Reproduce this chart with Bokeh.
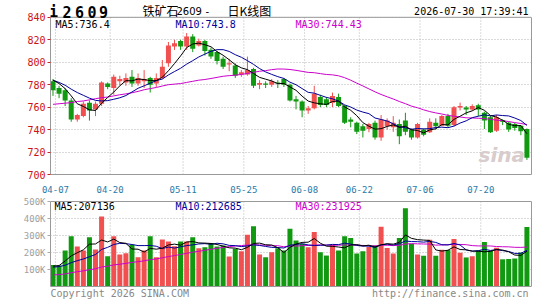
import numpy as np
from bokeh.plotting import figure
from bokeh.layouts import column
from bokeh.models import (ColumnDataSource, FixedTicker, Range1d, LinearAxis,
                          CustomJSTickFormatter)
from bokeh.core.properties import value
from bokeh.embed import file_html
from bokeh.resources import INLINE

# ---------------- data ----------------
tick_idx = [0, 9, 21, 31, 41, 50, 60, 70]
tick_labels = ["04-07", "04-20", "05-11", "05-25", "06-08", "06-22", "07-06", "07-20"]

opens = [783, 777, 775, 766, 749, 752, 764, 758, 763, 781,
         777, 783, 782, 787, 781, 783, 786, 781, 786, 799,
         814, 819, 814, 823, 815, 819, 811, 809, 803, 798,
         797, 789, 789, 794, 780, 781, 780, 782, 785, 780,
         767, 765, 757, 759, 769, 767, 764, 769, 761, 749,
         746, 743, 740.5, 746, 733, 743, 742, 745, 748, 740,
         733, 740, 737.6, 746, 743.5, 752, 744, 759.6, 759.6, 758,
         761.7, 755, 751, 739, 748.5, 746, 745, 743.5, 740.5]
highs = [785, 779, 777, 768, 754, 765, 766, 765, 783, 782,
         789, 788, 790, 793, 790, 793, 787, 790, 802, 818,
         820, 820, 826, 825, 821, 820, 813, 810, 805, 803,
         799, 793, 805, 795, 784, 783, 785, 784, 786, 781,
         770, 766, 761, 779, 771, 769, 773, 772, 762, 751,
         747, 745, 746, 748, 753, 750, 752, 749, 755, 741,
         746, 741, 750, 750, 753, 754, 761, 764, 761, 762.5,
         763, 756, 752, 753, 749, 747, 746, 744, 741]
lows = [770, 768, 761, 747, 747, 751, 748, 752, 761, 776,
        771, 779, 779, 778, 779, 777, 773, 778, 785, 796,
        811, 811, 811, 809, 814, 806, 803, 798, 794, 792,
        786, 787, 788, 777, 776, 777, 778, 777, 778, 765,
        758, 751, 754, 758, 760, 760, 760, 760, 745, 742,
        736, 733, 737.6, 731, 730, 740, 738, 727, 735, 731,
        732, 734, 737, 740, 743, 742, 743, 757, 753, 757,
        752, 740.5, 737, 738, 744, 738, 739, 735, 713]
closes = [775, 772, 766, 749, 753, 763, 757, 763, 782, 778,
          787, 785, 786, 781, 786, 785, 780, 786, 796, 815,
          817, 814, 823, 812, 819, 810, 805, 801, 796, 799,
          788, 791, 793, 779, 781.5, 780, 783, 781, 780, 766,
          765, 757, 759, 772, 762, 762, 770, 761, 746, 747,
          738, 739, 745, 733, 749, 748, 746, 734, 738, 733,
          745, 735.5, 747, 743, 752, 743.5, 760, 761, 758, 761,
          758, 748, 737.6, 751, 747, 740, 741.5, 738.5, 715]
volumes_k = [127, 124, 212, 296, 235, 212, 290, 218, 412, 178,
             296, 188, 196, 245, 172, 212, 296, 172, 276, 265,
             237, 265, 265, 290, 225, 231, 255, 235, 241, 176,
             222, 208, 304, 355, 188, 172, 202, 225, 212, 339,
             270, 251, 231, 320, 202, 182, 245, 212, 296, 285,
             194, 208, 232, 241, 352, 226, 194, 285, 460, 251,
             188, 181, 275, 181, 216, 214, 279, 198, 171, 178,
             212, 262, 210, 228, 160, 162, 165, 200, 350]

# moving-average values read off the chart where the window has no full history
ma5_head = [784.0, 781.0, 776.5, 770.0]
ma10_head = [784.0, 782.0, 779.5, 776.0, 773.0, 770.5, 768.0, 766.0, 765.5]
ma30_head = [762.5, 763.0, 763.5, 764.0, 765.0, 765.5, 766.5, 767.5, 768.4, 769.0,
             770.0, 771.0, 771.8, 772.8, 774.0, 775.5, 776.5, 777.5, 778.8, 780.0,
             780.5, 781.0, 782.0, 783.0, 784.0, 784.6, 785.5, 786.5, 787.5]
vma5_head_k = [120, 123, 150, 180]
vma10_head_k = [114, 117, 125, 140, 152, 162, 175, 188, 218]
vma30_head_k = [68, 70, 74, 81, 87, 92, 99, 104, 115, 119,
                127, 131, 136, 142, 146, 151, 158, 162, 169, 176,
                182, 188, 195, 202, 207, 213, 219, 225, 230]

price_ticks = [700, 720, 740, 760, 780, 800, 820, 840]
vol_ticks = [100000, 200000, 300000, 400000, 500000]
ma_price_labels = ["MA5:736.4", "MA10:743.8", "MA30:744.43"]
ma_vol_labels = ["MA5:207136", "MA10:212685", "MA30:231925"]
symbol = "i2609"
title_parts = ["铁矿石", "2609", "-", "日K线图"]
timestamp = "2026-07-30 17:39:41"
footer_left = "Copyright 2026 SINA.COM"
footer_right = "http://finance.sina.com.cn"

# ---------------- style / geometry ----------------
RED = "#f05050"
GREEN = "#119911"
MA_COLORS = ["#000000", "#000099", "#cc00cc"]
GRID = "#b4b4b4"
FRAME = "#999999"
MONO = "DejaVu Sans Mono"

n = len(closes)
xs = np.arange(n)
volumes = np.array(volumes_k) * 1000.0


def moving(vals, w, head):
    out = []
    for i in range(len(vals)):
        if i < w - 1:
            out.append(head[i])
        else:
            out.append(float(np.mean(vals[i - w + 1:i + 1])))
    return out


ma5 = moving(closes, 5, ma5_head)
ma10 = moving(closes, 10, ma10_head)
ma30 = moving(closes, 30, ma30_head)
vma5 = moving(list(volumes), 5, [v * 1000 for v in vma5_head_k])
vma10 = moving(list(volumes), 10, [v * 1000 for v in vma10_head_k])
vma30 = moving(list(volumes), 30, [v * 1000 for v in vma30_head_k])

up = [c >= o for o, c in zip(opens, closes)]
colors = [RED if u else GREEN for u in up]
tops = [max(o, c) for o, c in zip(opens, closes)]
bots = [min(o, c) for o, c in zip(opens, closes)]
bots = [b if t - b >= 0.6 else t - 0.6 for t, b in zip(tops, bots)]

src = ColumnDataSource(dict(x=xs, o=opens, h=highs, l=lows, c=closes, top=tops,
                            bot=bots, col=colors, vol=volumes))

W = 545
LEFT, RIGHT_B = 50, 14
FRAME_W = W - LEFT - RIGHT_B
SPACING = 6.076
X0 = -0.41
X1 = X0 + FRAME_W / SPACING
BODY_W = 5.0 / SPACING
GRID_OFF = 0.41
tick_pos = [i + GRID_OFF for i in tick_idx]

xr = Range1d(X0, X1)


def px2x(px):
    return X0 + (px - LEFT) / SPACING


# price panel: canvas 0..195, plot box 17..176, frame covers 0..176 (header inside)
P_BOX_TOP, P_BOX_H, P_H = 17, 159, 195
P_MIN, P_MAX = 700, 840
P_SCALE = (P_MAX - P_MIN) / P_BOX_H


def py(pix):  # canvas pixel -> price
    return P_MAX - (pix - P_BOX_TOP) * P_SCALE


def empty_axis(lo, hi):
    return LinearAxis(bounds=(lo, hi), ticker=FixedTicker(ticks=[]),
                      formatter=CustomJSTickFormatter(code="return '';"),
                      axis_line_color=FRAME, major_tick_line_color=None,
                      minor_tick_line_color=None, major_label_standoff=0)


p1 = figure(width=W, height=P_H, x_range=xr,
            y_range=Range1d(P_MIN, py(0)), output_backend="svg",
            toolbar_location=None, title=None,
            min_border_left=LEFT, min_border_right=RIGHT_B,
            min_border_top=0, min_border_bottom=P_H - 176)
p1.outline_line_color = None
p1.background_fill_color = "white"
p1.border_fill_color = "white"
p1.xgrid.visible = False

p1.xaxis.ticker = FixedTicker(ticks=tick_pos)
p1.xaxis.formatter = CustomJSTickFormatter(
    args=dict(labels=tick_labels, idx=tick_idx, off=GRID_OFF),
    code="const i = idx.indexOf(Math.round(tick - off)); return i >= 0 ? labels[i] : '';")
p1.xaxis.axis_line_color = FRAME
p1.xaxis.major_tick_line_color = None
p1.xaxis.minor_tick_line_color = None
p1.xaxis.major_label_standoff = 5
p1.xaxis.major_label_text_font = MONO
p1.xaxis.major_label_text_font_size = "9px"
p1.xaxis.major_label_text_color = "#2a7aa8"

p1.yaxis.bounds = (P_MIN, P_MAX)
p1.yaxis.ticker = FixedTicker(ticks=price_ticks)
p1.yaxis.axis_line_color = FRAME
p1.yaxis.major_tick_out = 3
p1.yaxis.major_tick_in = 0
p1.yaxis.major_tick_line_color = "#cc2222"
p1.yaxis.minor_tick_line_color = None
p1.yaxis.major_label_standoff = 2
p1.yaxis.major_label_text_font = MONO
p1.yaxis.major_label_text_font_size = "10px"
p1.yaxis.major_label_text_color = "#cc1111"
p1.add_layout(empty_axis(P_MIN, P_MAX), "right")

p1.ygrid.grid_line_color = GRID
p1.ygrid.grid_line_dash = "1 2"
p1.segment(x0=tick_pos, y0=P_MIN, x1=tick_pos, y1=P_MAX, line_color=GRID,
           line_dash="1 2", line_width=1)
p1.line([X0, X1], [P_MAX, P_MAX], line_color=FRAME, line_width=1)

# watermark
p1.text(x=[px2x(478)], y=[py(156)], text=["sina"], text_font=value("DejaVu Sans"),
        text_font_style="bold italic", text_font_size="20px", text_color="#d8cccc",
        text_baseline="middle", text_align="left")

p1.segment(x0="x", y0="l", x1="x", y1="h", color="col", line_width=1, source=src)
p1.vbar(x="x", width=BODY_W, top="top", bottom="bot", fill_color="col",
        line_color=None, source=src)
for vals, col in zip([ma30, ma10, ma5], MA_COLORS[::-1]):
    p1.line(xs, vals, line_color=col, line_width=1)

# legends
p1.text(x=[px2x(v) for v in [55, 175, 295]], y=[py(24)] * 3, text=ma_price_labels,
        text_font=value(MONO), text_font_size="10px", text_color=MA_COLORS,
        text_baseline="middle", text_align="left")
# header
sym_px = [53, 66.5, 79, 91.5, 103]
p1.text(x=[px2x(v) for v in sym_px], y=[py(11.5)] * len(symbol), text=list(symbol),
        text_font=value(MONO), text_font_style="bold", text_font_size="15px",
        text_color="#000000", text_baseline="middle", text_align="center")
p1.text(x=[px2x(142), px2x(227)], y=[py(10.5)] * 2, text=[title_parts[0], title_parts[3]],
        text_font=value("Noto Sans CJK SC"), text_font_size="12px", text_color="#000000",
        text_baseline="middle", text_align="left")
p1.text(x=[px2x(176), px2x(205)], y=[py(11)] * 2, text=[title_parts[1], title_parts[2]],
        text_font=value("DejaVu Sans"), text_font_size="10px", text_color="#000000",
        text_baseline="middle", text_align="left")
p1.text(x=[px2x(528)], y=[py(11.5)], text=[timestamp], text_font=value(MONO),
        text_font_size="10px", text_color="#000000", text_baseline="middle",
        text_align="right")

# volume panel: canvas 195..300, box 201..286, frame 200..300 (footer inside)
V_CANVAS0, V_BOX_TOP, V_BOX_BOT = 195, 201, 286
V_MAX = 500000
V_SCALE = V_MAX / (V_BOX_BOT - V_BOX_TOP)


def vy(pix):  # canvas pixel -> volume
    return V_MAX - (pix - V_BOX_TOP) * V_SCALE


p2 = figure(width=W, height=300 - V_CANVAS0, x_range=xr,
            y_range=Range1d(vy(300), vy(V_BOX_TOP - 1)), output_backend="svg",
            toolbar_location=None, title=None, x_axis_location=None,
            min_border_left=LEFT, min_border_right=RIGHT_B,
            min_border_top=V_BOX_TOP - 1 - V_CANVAS0, min_border_bottom=0)
p2.outline_line_color = None
p2.xgrid.visible = False
p2.yaxis.bounds = (0, V_MAX)
p2.yaxis.ticker = FixedTicker(ticks=vol_ticks)
p2.yaxis.formatter = CustomJSTickFormatter(code="return (tick/1000).toFixed(0) + 'K';")
p2.yaxis.axis_line_color = FRAME
p2.yaxis.major_tick_out = 3
p2.yaxis.major_tick_in = 0
p2.yaxis.major_tick_line_color = "#aaaaaa"
p2.yaxis.minor_tick_line_color = None
p2.yaxis.major_label_standoff = 2
p2.yaxis.major_label_text_font = MONO
p2.yaxis.major_label_text_font_size = "9px"
p2.yaxis.major_label_text_color = "#a0a0a0"
p2.add_layout(empty_axis(0, V_MAX), "right")
p2.ygrid.grid_line_color = GRID
p2.ygrid.grid_line_dash = "1 2"
p2.segment(x0=tick_pos, y0=0, x1=tick_pos, y1=V_MAX, line_color=GRID,
           line_dash="1 2", line_width=1)
p2.line([X0, X1], [V_MAX, V_MAX], line_color=FRAME, line_width=1)

p2.vbar(x="x", width=BODY_W, top="vol", bottom=0, fill_color="col",
        line_color=None, source=src)
for vals, col in zip([vma30, vma10, vma5], MA_COLORS[::-1]):
    p2.line(xs, vals, line_color=col, line_width=1)
p2.line([X0, X1], [0, 0], line_color=FRAME, line_width=1)

p2.text(x=[px2x(v) for v in [54, 175, 295]], y=[vy(206)] * 3, text=ma_vol_labels,
        text_font=value(MONO), text_font_size="10px", text_color=MA_COLORS,
        text_baseline="middle", text_align="left")
p2.text(x=[px2x(50)], y=[vy(293)], text=[footer_left], text_font=value(MONO),
        text_font_size="10px", text_color="#888888", text_baseline="middle",
        text_align="left")
p2.text(x=[px2x(528)], y=[vy(293)], text=[footer_right], text_font=value(MONO),
        text_font_size="10px", text_color="#888888", text_baseline="middle",
        text_align="right")

layout = column(p1, p2, spacing=0)
open("out.html", "w").write(file_html(layout, INLINE))
